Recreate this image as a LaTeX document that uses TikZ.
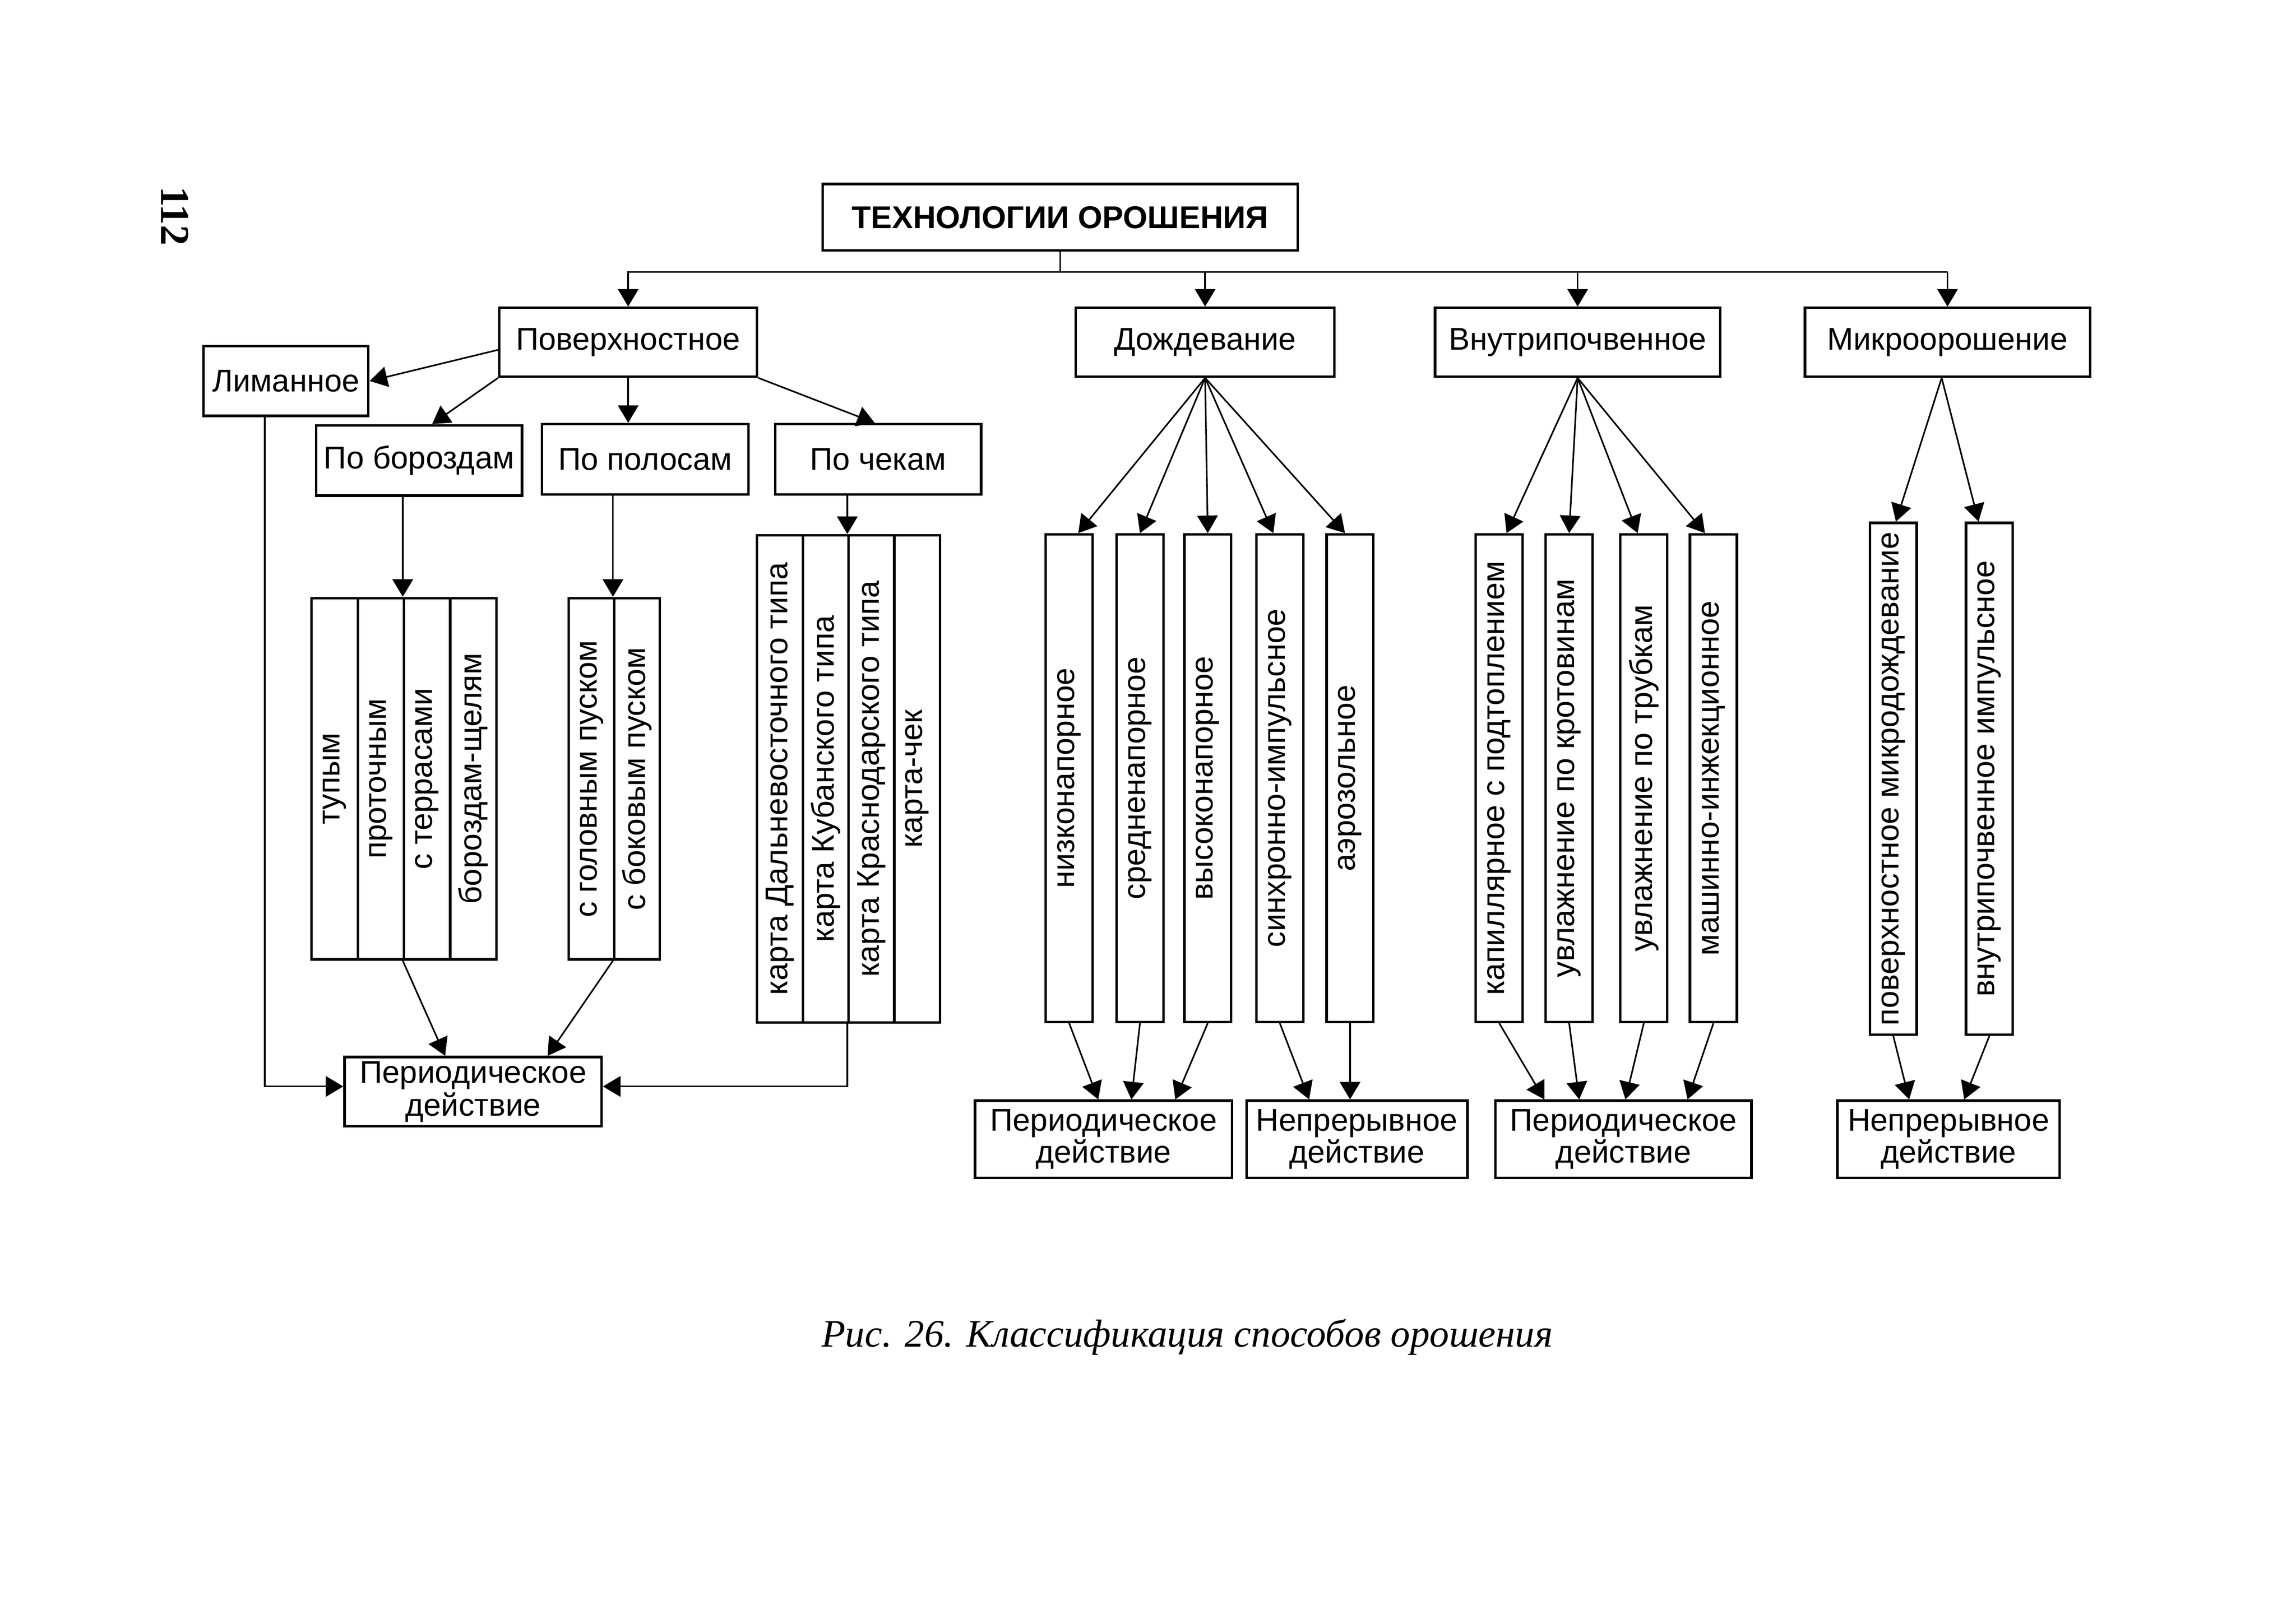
\documentclass[tikz,border=0pt]{standalone}
\usepackage{fontspec}
\usepackage{graphicx}
\setmainfont{Liberation Sans}
\newfontfamily\capserif{Liberation Serif}
\usetikzlibrary{arrows.meta}
\begin{document}
\begin{tikzpicture}[x=0.5pt,y=-0.5pt,
  box/.style={draw, line width=0.85pt, inner sep=0pt, align=center,
    font=\fontsize{10.75pt}{11pt}\selectfont},
  twoline/.style={box, font=\fontsize{10.75pt}{11pt}\selectfont},
  colbox/.style={box, minimum width=16pt},
  conn/.style={line width=0.55pt},
  arr/.style={conn, -{Triangle[length=6pt,width=7pt]}},
]
\useasboundingbox (0,0) rectangle (1568,1109.2);
\fill[white] (0,0) rectangle (1568,1109.2);

% page number and caption
\node[rotate=-90, inner sep=0pt, font=\capserif\bfseries\fontsize{14pt}{16pt}\selectfont] (pg) at (119.25,147.5) {112};
\node[anchor=base west, inner sep=0pt, font=\capserif\itshape\fontsize{13.3pt}{16pt}\selectfont] (cap) at (560.7,919.9) {Рис. 26. Классификация способов орошения};

% top level
\node[box, minimum width=162.25pt, minimum height=22.7pt, font=\bfseries\fontsize{10.75pt}{11pt}\selectfont] (tech) at (724,148.4) {ТЕХНОЛОГИИ ОРОШЕНИЯ};
\node[box, minimum width=88pt, minimum height=23.5pt] (pov) at (429,233.75) {Поверхностное};
\node[box, minimum width=88.35pt, minimum height=23.5pt] (dozh) at (823,233.75) {Дождевание};
\node[box, minimum width=97.4pt, minimum height=23.5pt] (vnut) at (1077.4,233.75) {Внутрипочвенное};
\node[box, minimum width=97.4pt, minimum height=23.5pt] (micro) at (1330,233.75) {Микроорошение};

% surface sub-level
\node[box, minimum width=56.35pt, minimum height=23.75pt] (liman) at (195.25,260.25) {Лиманное};
\node[box, minimum width=70.3pt, minimum height=24pt] (boroz) at (286.2,314.5) {По бороздам};
\node[box, minimum width=70.5pt, minimum height=24pt] (polos) at (440.6,313.7) {По полосам};
\node[box, minimum width=70.3pt, minimum height=24pt] (chek) at (599.7,313.7) {По чекам};

% group 1
\begin{scope}[every node/.style={box, minimum width=15.775pt, minimum height=123.4pt}]
\node (g11) at (228.575,531.9) {\rotatebox{90}{тупым}};
\node (g12) at (260.125,531.9) {\rotatebox{90}{проточным}};
\node (g13) at (291.675,531.9) {\rotatebox{90}{с террасами}};
\node (g14) at (323.225,531.9) {\rotatebox{90}{бороздам-щелям}};
\end{scope}
% group 2
\begin{scope}[every node/.style={box, minimum width=15.525pt, minimum height=123.4pt}]
\node (g21) at (403.925,531.9) {\rotatebox{90}{с головным пуском}};
\node (g22) at (434.975,531.9) {\rotatebox{90}{с боковым пуском}};
\end{scope}
% group 3
\begin{scope}[every node/.style={box, minimum width=15.625pt, minimum height=166.35pt}]
\node (g31) at (532.625,531.95) {\rotatebox{90}{карта Дальневосточного типа}};
\node (g32) at (563.875,531.95) {\rotatebox{90}{карта Кубанского типа}};
\node (g33) at (595.125,531.95) {\rotatebox{90}{карта Краснодарского типа}};
\node (g34) at (626.375,531.95) {\rotatebox{90}{карта-чек}};
\end{scope}
% sprinkling columns
\begin{scope}[every node/.style={box, minimum width=16pt, minimum height=166.5pt}]
\node (d1) at (730.15,531.5) {\rotatebox{90}{низконапорное}};
\node (d2) at (778.5,531.5) {\rotatebox{90}{средненапорное}};
\node (d3) at (824.8,531.5) {\rotatebox{90}{высоконапорное}};
\node (d4) at (874,531.5) {\rotatebox{90}{синхронно-импульсное}};
\node (d5) at (921.95,531.5) {\rotatebox{90}{аэрозольное}};
\node (v1) at (1023.85,531.5) {\rotatebox{90}{капиллярное с подтоплением}};
\node (v2) at (1071.6,531.5) {\rotatebox{90}{увлажнение по кротовинам}};
\node (v3) at (1122.6,531.5) {\rotatebox{90}{увлажнение по трубкам}};
\node (v4) at (1170.15,531.5) {\rotatebox{90}{машинно-инжекционное}};
\end{scope}
\begin{scope}[every node/.style={box, minimum width=16pt, minimum height=174.8pt}]
\node (m1) at (1292.95,531.9) {\rotatebox{90}{поверхностное микродождевание}};
\node (m2) at (1358.6,531.9) {\rotatebox{90}{внутрипочвенное импульсное}};
\end{scope}

% bottom boxes
\node[box, minimum width=87.8pt, minimum height=23.65pt, font=\fontsize{10.75pt}{9.5pt}\selectfont] (per1) at (323.1,745.65) {Периодическое\\действие};
\node[box, minimum width=87.75pt, minimum height=26.3pt, font=\fontsize{10.75pt}{11pt}\selectfont] (per2) at (753.65,778.1) {Периодическое\\действие};
\node[box, minimum width=75.45pt, minimum height=26.3pt, font=\fontsize{10.75pt}{11pt}\selectfont] (nep1) at (926.65,778.1) {Непрерывное\\действие};
\node[box, minimum width=87.45pt, minimum height=26.3pt, font=\fontsize{10.75pt}{11pt}\selectfont] (per3) at (1108.65,778.1) {Периодическое\\действие};
\node[box, minimum width=75.9pt, minimum height=26.3pt, font=\fontsize{10.75pt}{11pt}\selectfont] (nep2) at (1330.7,778.1) {Непрерывное\\действие};

% top bus
\coordinate (busL) at (429,185.8);
\coordinate (busR) at (1330,185.8);
\draw[conn] (tech.south) -- (tech.south |- busL);
\draw[arr] (busR) -- (busL) -- (pov.north);
\draw[arr] (busR) -- (micro.north);
\draw[arr] (dozh.north |- busL) -- (dozh.north);
\draw[arr] (vnut.north |- busL) -- (vnut.north);

% surface
\draw[arr] ([yshift=-2.6pt]pov.west) -- (liman.east);
\draw[arr] (pov.south west) -- ([xshift=4.45pt]boroz.north);
\draw[arr] (pov.south) -- (pov.south |- polos.north);
\draw[arr] (pov.south east) -- ([xshift=-1.15pt]chek.north);
\draw[arr] ([xshift=-7.2pt]liman.south) |- ([yshift=1.8pt]per1.west);
\draw[arr] (boroz.south -| g13.north west) -- (g13.north west);
\draw[arr] (polos.south -| g22.north west) -- (g22.north west);
\draw[arr] (chek.south -| g33.north west) -- (g33.north west);
\draw[arr] (g13.south west) -- ([xshift=-9.55pt]per1.north);
\draw[arr] (g22.south west) -- ([xshift=25.45pt]per1.north);
\draw[arr] (g33.south west) |- ([yshift=1.8pt]per1.east);

% sprinkling
\draw[arr] (dozh.south) -- ([xshift=3.1pt]d1.north);
\draw[arr] (dozh.south) -- (d2.north);
\draw[arr] (dozh.south) -- (d3.north);
\draw[arr] (dozh.south) -- ([xshift=-2.2pt]d4.north);
\draw[arr] (dozh.south) -- ([xshift=-1.7pt]d5.north);
\draw[arr] (d1.south) -- ([xshift=-1.8pt]per2.north);
\draw[arr] (d2.south) -- ([xshift=9.5pt]per2.north);
\draw[arr] (d3.south) -- ([xshift=24.5pt]per2.north);
\draw[arr] (d4.south) -- ([xshift=-16.3pt]nep1.north);
\draw[arr] (d5.south) -- (d5.south |- nep1.north);

% subsurface
\draw[arr] (vnut.south) -- ([xshift=2.5pt]v1.north);
\draw[arr] (vnut.south) -- (v2.north);
\draw[arr] (vnut.south) -- ([xshift=-2.1pt]v3.north);
\draw[arr] (vnut.south) -- ([xshift=-2.9pt]v4.north);
\draw[arr] (v1.south) -- ([xshift=-27pt]per3.north);
\draw[arr] (v2.south) -- ([xshift=-15.1pt]per3.north);
\draw[arr] (v3.south) -- ([xshift=0.7pt]per3.north);
\draw[arr] (v4.south) -- ([xshift=21.9pt]per3.north);

% micro
\draw[arr] ([xshift=-2pt]micro.south) -- ([xshift=0.9pt]m1.north);
\draw[arr] ([xshift=-2pt]micro.south) -- ([xshift=-3.7pt]m2.north);
\draw[arr] (m1.south) -- ([xshift=-13.45pt]nep2.north);
\draw[arr] (m2.south) -- ([xshift=5.35pt]nep2.north);
\end{tikzpicture}
\end{document}
